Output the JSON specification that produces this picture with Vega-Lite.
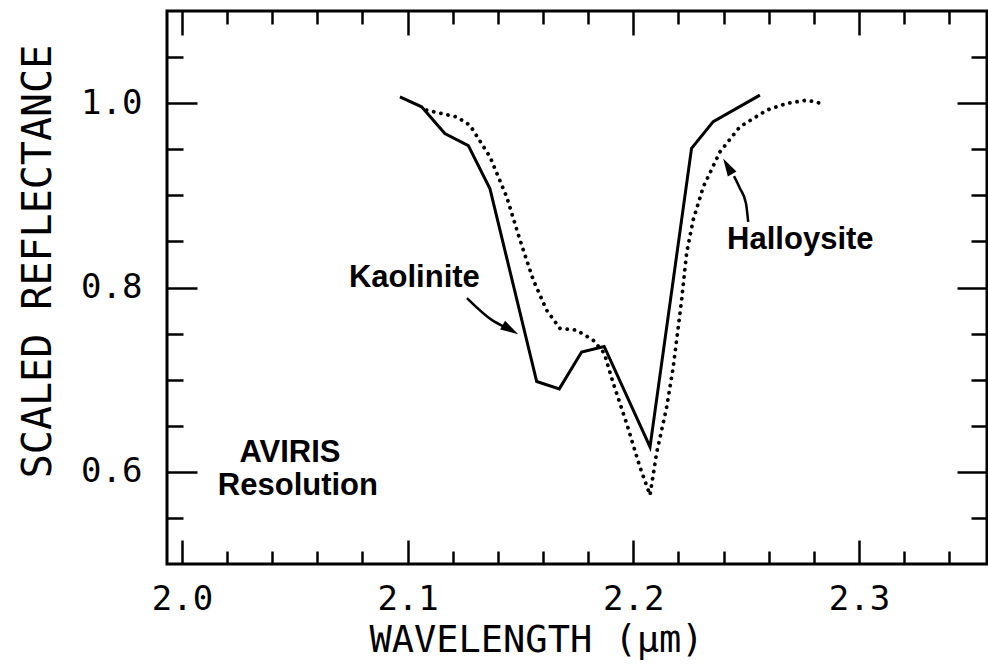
{
  "$schema": "https://vega.github.io/schema/vega-lite/v6.json",
  "width": 820,
  "height": 553,
  "autosize": "none",
  "padding": {"left": 167, "top": 11, "right": 1, "bottom": 102},
  "background": "white",
  "config": {
    "view": {"stroke": "black", "strokeWidth": 3},
    "axis": {"domain": false, "grid": false, "tickColor": "black", "tickWidth": 2.5, "labelColor": "black", "titleColor": "black", "labelOverlap": false, "labelFlush": false, "labelBound": false}
  },
  "datasets": {
    "curves": [
      {"mineral": "Kaolinite", "wl": 2.0966, "refl": 1.0068},
      {"mineral": "Kaolinite", "wl": 2.1062, "refl": 0.996},
      {"mineral": "Kaolinite", "wl": 2.1165, "refl": 0.967},
      {"mineral": "Kaolinite", "wl": 2.1269, "refl": 0.954},
      {"mineral": "Kaolinite", "wl": 2.1365, "refl": 0.907},
      {"mineral": "Kaolinite", "wl": 2.1572, "refl": 0.698},
      {"mineral": "Kaolinite", "wl": 2.1672, "refl": 0.690},
      {"mineral": "Kaolinite", "wl": 2.1771, "refl": 0.730},
      {"mineral": "Kaolinite", "wl": 2.1871, "refl": 0.736},
      {"mineral": "Kaolinite", "wl": 2.2074, "refl": 0.627},
      {"mineral": "Kaolinite", "wl": 2.2258, "refl": 0.951},
      {"mineral": "Kaolinite", "wl": 2.2354, "refl": 0.980},
      {"mineral": "Kaolinite", "wl": 2.2561, "refl": 1.0087},
      {"mineral": "Halloysite", "wl": 2.1084, "refl": 0.9924},
      {"mineral": "Halloysite", "wl": 2.1217, "refl": 0.9851},
      {"mineral": "Halloysite", "wl": 2.1276, "refl": 0.9761},
      {"mineral": "Halloysite", "wl": 2.1365, "refl": 0.9417},
      {"mineral": "Halloysite", "wl": 2.1439, "refl": 0.8983},
      {"mineral": "Halloysite", "wl": 2.1498, "refl": 0.8514},
      {"mineral": "Halloysite", "wl": 2.1557, "refl": 0.8080},
      {"mineral": "Halloysite", "wl": 2.1616, "refl": 0.7754},
      {"mineral": "Halloysite", "wl": 2.1675, "refl": 0.7556},
      {"mineral": "Halloysite", "wl": 2.1749, "refl": 0.7537},
      {"mineral": "Halloysite", "wl": 2.1822, "refl": 0.7429},
      {"mineral": "Halloysite", "wl": 2.1871, "refl": 0.7288},
      {"mineral": "Halloysite", "wl": 2.1911, "refl": 0.6962},
      {"mineral": "Halloysite", "wl": 2.1970, "refl": 0.6528},
      {"mineral": "Halloysite", "wl": 2.2029, "refl": 0.6054},
      {"mineral": "Halloysite", "wl": 2.2074, "refl": 0.5747},
      {"mineral": "Halloysite", "wl": 2.2103, "refl": 0.6203},
      {"mineral": "Halloysite", "wl": 2.2148, "refl": 0.6705},
      {"mineral": "Halloysite", "wl": 2.2177, "refl": 0.7139},
      {"mineral": "Halloysite", "wl": 2.2214, "refl": 0.7863},
      {"mineral": "Halloysite", "wl": 2.2236, "refl": 0.8373},
      {"mineral": "Halloysite", "wl": 2.2265, "refl": 0.8731},
      {"mineral": "Halloysite", "wl": 2.2310, "refl": 0.9092},
      {"mineral": "Halloysite", "wl": 2.2384, "refl": 0.9472},
      {"mineral": "Halloysite", "wl": 2.2472, "refl": 0.9743},
      {"mineral": "Halloysite", "wl": 2.2591, "refl": 0.9924},
      {"mineral": "Halloysite", "wl": 2.2679, "refl": 0.9997},
      {"mineral": "Halloysite", "wl": 2.2768, "refl": 1.0033},
      {"mineral": "Halloysite", "wl": 2.2834, "refl": 0.9997}
    ],
    "arrows": [
      {"arrow": "k", "ord": 1, "wl": 2.1263, "refl": 0.7884},
      {"arrow": "k", "ord": 2, "wl": 2.1374, "refl": 0.7646},
      {"arrow": "k", "ord": 3, "wl": 2.1431, "refl": 0.7570},
      {"arrow": "h", "ord": 1, "wl": 2.2509, "refl": 0.8712},
      {"arrow": "h", "ord": 2, "wl": 2.2499, "refl": 0.8915},
      {"arrow": "h", "ord": 3, "wl": 2.2472, "refl": 0.9078},
      {"arrow": "h", "ord": 4, "wl": 2.2446, "refl": 0.9208}
    ],
    "heads": [
      {"wl": 2.1490, "refl": 0.7494, "angle": 30},
      {"wl": 2.2398, "refl": 0.9400, "angle": 240}
    ],
    "labels": [
      {"text": "Kaolinite", "wl": 2.1030, "refl": 0.8101},
      {"text": "Halloysite", "wl": 2.2740, "refl": 0.8514},
      {"text": "AVIRIS", "wl": 2.0479, "refl": 0.6203},
      {"text": "Resolution", "wl": 2.0514, "refl": 0.5845}
    ]
  },
  "layer": [
    {
      "data": {"name": "curves"},
      "transform": [{"filter": "datum.mineral == 'Kaolinite'"}],
      "mark": {"type": "line", "color": "black", "strokeWidth": 3, "strokeJoin": "miter"},
      "encoding": {
        "x": {
          "field": "wl", "type": "quantitative",
          "scale": {"domain": [1.9934, 2.3567], "nice": false, "zero": false},
          "axis": {
            "orient": "bottom",
            "values": [2.0, 2.02, 2.04, 2.06, 2.08, 2.1, 2.12, 2.14, 2.16, 2.18, 2.2, 2.22, 2.24, 2.26, 2.28, 2.3, 2.32, 2.34],
            "tickSize": {"condition": {"test": "abs(datum.value*10 - round(datum.value*10)) < 0.01", "value": -24}, "value": -13},
            "labelExpr": "abs(datum.value*10 - round(datum.value*10)) < 0.01 ? format(datum.value, '.1f') : ''",
            "labelFont": "DejaVu Sans Mono", "labelFontSize": 34, "labelPadding": 42,
            "title": "WAVELENGTH  (μm)", "titleFont": "DejaVu Sans Mono", "titleFontSize": 37, "titleFontWeight": "normal", "titlePadding": -5, "titleX": 369
          }
        },
        "y": {
          "field": "refl", "type": "quantitative",
          "scale": {"domain": [0.5, 1.1], "nice": false, "zero": false},
          "axis": {
            "orient": "left",
            "values": [0.55, 0.6, 0.65, 0.7, 0.75, 0.8, 0.85, 0.9, 0.95, 1.0, 1.05],
            "tickSize": {"condition": {"test": "abs(datum.value*5 - round(datum.value*5)) < 0.01", "value": -30}, "value": -16},
            "labelExpr": "abs(datum.value*5 - round(datum.value*5)) < 0.01 ? format(datum.value, '.1f') : ''",
            "labelFont": "DejaVu Sans Mono", "labelFontSize": 34, "labelPadding": 55,
            "title": "SCALED REFLECTANCE", "titleFont": "DejaVu Sans Mono", "titleFontSize": 40, "titleFontWeight": "normal", "titlePadding": 22, "titleY": 250
          }
        }
      }
    },
    {
      "data": {"name": "curves"},
      "transform": [{"filter": "datum.mineral == 'Halloysite'"}],
      "mark": {"type": "line", "color": "black", "strokeWidth": 3.8, "strokeCap": "round", "strokeDash": [0.1, 7.2]},
      "encoding": {
        "x": {
          "field": "wl", "type": "quantitative",
          "axis": {
            "orient": "top",
            "values": [2.0, 2.02, 2.04, 2.06, 2.08, 2.1, 2.12, 2.14, 2.16, 2.18, 2.2, 2.22, 2.24, 2.26, 2.28, 2.3, 2.32, 2.34],
            "tickSize": {"condition": {"test": "abs(datum.value*10 - round(datum.value*10)) < 0.01", "value": -24}, "value": -13},
            "labels": false, "title": null
          }
        },
        "y": {
          "field": "refl", "type": "quantitative",
          "axis": {
            "orient": "right",
            "values": [0.55, 0.6, 0.65, 0.7, 0.75, 0.8, 0.85, 0.9, 0.95, 1.0, 1.05],
            "tickSize": {"condition": {"test": "abs(datum.value*5 - round(datum.value*5)) < 0.01", "value": -30}, "value": -16},
            "labels": false, "title": null
          }
        }
      }
    },
    {
      "data": {"name": "arrows"},
      "mark": {"type": "line", "color": "black", "strokeWidth": 2.5, "interpolate": "monotone"},
      "encoding": {
        "x": {"field": "wl", "type": "quantitative", "axis": null},
        "y": {"field": "refl", "type": "quantitative", "axis": null},
        "detail": {"field": "arrow"},
        "order": {"field": "ord", "type": "quantitative"}
      }
    },
    {
      "data": {"name": "heads"},
      "mark": {"type": "point", "shape": "M0,0L-2,-0.55L-2,0.55Z", "filled": true, "color": "black", "opacity": 1, "size": 324},
      "encoding": {
        "x": {"field": "wl", "type": "quantitative", "axis": null},
        "y": {"field": "refl", "type": "quantitative", "axis": null},
        "angle": {"field": "angle", "type": "quantitative", "scale": null}
      }
    },
    {
      "data": {"name": "labels"},
      "mark": {"type": "text", "font": "Liberation Sans", "fontWeight": "bold", "fontSize": 31, "color": "black", "align": "center", "baseline": "middle"},
      "encoding": {
        "x": {"field": "wl", "type": "quantitative", "axis": null},
        "y": {"field": "refl", "type": "quantitative", "axis": null},
        "text": {"field": "text"}
      }
    }
  ],
  "resolve": {"axis": {"x": "independent", "y": "independent"}}
}
